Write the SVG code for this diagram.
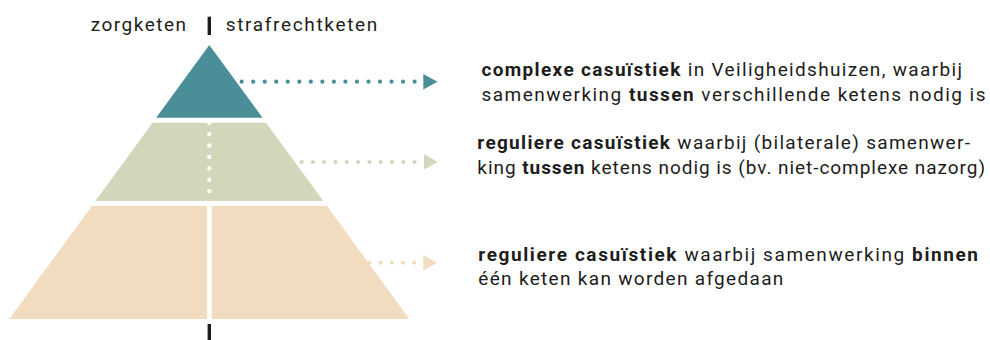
<svg xmlns="http://www.w3.org/2000/svg" width="990" height="340" viewBox="0 0 990 340">
  <style>
    text { font-family: Roboto, "Liberation Sans", sans-serif; font-size: 19px; fill: #1d1d1b; }
    .b { font-weight: bold; }
    .dots { fill: none; stroke-width: 4.2; stroke-linecap: round; }
    .teal { fill: #4a8e98; }
    .sage { fill: #d1d7bb; }
    .sand { fill: #f2dcc0; }
  </style>
  <rect width="990" height="340" fill="#ffffff"/>

  <g id="connectors">
    <line class="dots" x1="414.6" y1="81.7" x2="225" y2="81.7" stroke="#4a8e98" stroke-dasharray="0 11.53"/>
    <polygon class="teal" points="423.3,74 437.5,81.7 423.3,89.4"/>
    <line class="dots" x1="414.6" y1="162" x2="280" y2="162" stroke="#d1d7bb" stroke-dasharray="0 11.3"/>
    <polygon class="sage" points="424,154 437.7,162 424,169.5"/>
    <line class="dots" x1="414.2" y1="262.7" x2="350" y2="262.7" stroke="#f2dcc0" stroke-dasharray="0 11.2"/>
    <polygon class="sand" points="423.3,255 437.3,262.7 423.3,270.3"/>
  </g>

  <g id="tier-top">
    <polygon class="teal" points="209.3,45 262.5,117.7 156.2,117.7"/>
  </g>
  <g id="tier-middle">
    <polygon class="sage" points="152.6,122.7 266,122.7 323.3,201 95.4,201"/>
    <line x1="209.3" y1="122.7" x2="209.3" y2="202" stroke="#ffffff" stroke-width="4.4" stroke-linecap="round" stroke-dasharray="0 11.4"/>
  </g>
  <g id="tier-bottom">
    <polygon class="sand" points="91.8,206 327,206 409.3,319 9.3,319"/>
    <line x1="209.3" y1="206" x2="209.3" y2="319" stroke="#ffffff" stroke-width="4.6"/>
  </g>

  <g id="axis">
    <line x1="209.3" y1="16.7" x2="209.3" y2="35" stroke="#1d1d1b" stroke-width="3.4"/>
    <line x1="209.3" y1="324" x2="209.3" y2="340" stroke="#1d1d1b" stroke-width="3.4"/>
    <text x="90.7" y="30.7" textLength="95.3" lengthAdjust="spacing">zorgketen</text>
    <text x="225.7" y="30.7" textLength="151.6" lengthAdjust="spacing">strafrechtketen</text>
  </g>

  <g id="label-top">
    <text x="481.5" y="76" textLength="480.5" lengthAdjust="spacing"><tspan class="b">complexe casuïstiek</tspan> in Veiligheidshuizen, waarbij</text>
    <text x="481.5" y="101" textLength="504" lengthAdjust="spacing">samenwerking <tspan class="b">tussen</tspan> verschillende ketens nodig is</text>
  </g>
  <g id="label-middle">
    <text x="477.3" y="149" textLength="492.7" lengthAdjust="spacing"><tspan class="b">reguliere casuïstiek</tspan> waarbij (bilaterale) samenwer-</text>
    <text x="477.3" y="174" textLength="507.7" lengthAdjust="spacing">king <tspan class="b">tussen</tspan> ketens nodig is (bv. niet-complexe nazorg)</text>
  </g>
  <g id="label-bottom">
    <text x="478.3" y="261" textLength="499.7" lengthAdjust="spacing"><tspan class="b">reguliere casuïstiek</tspan> waarbij samenwerking <tspan class="b">binnen</tspan></text>
    <text x="478.3" y="285" textLength="305" lengthAdjust="spacing">één keten kan worden afgedaan</text>
  </g>
</svg>
